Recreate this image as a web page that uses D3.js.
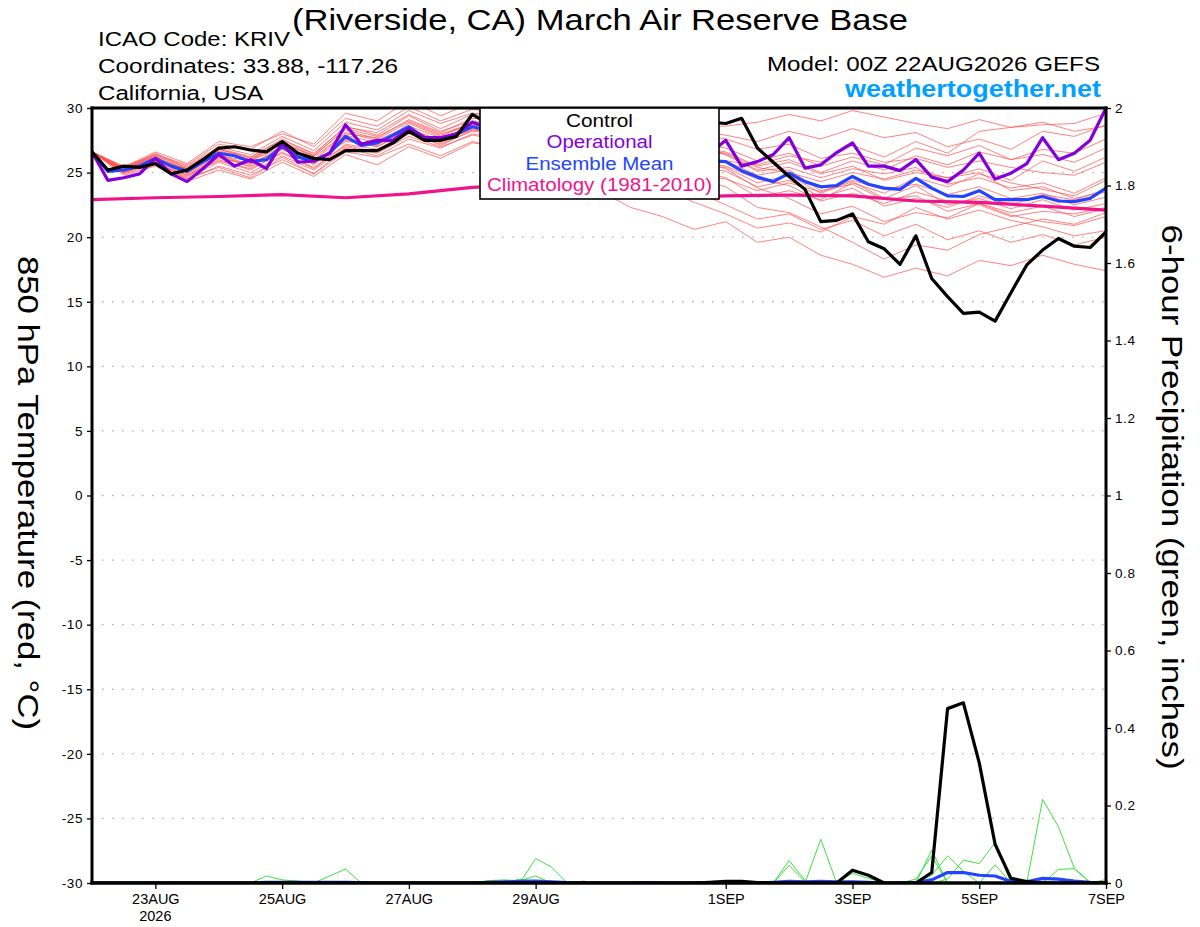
<!DOCTYPE html>
<html lang="en">
<head>
<meta charset="UTF-8" />
<title>KRIV - GEFS 850 hPa Temperature</title>
<style>
  body { margin: 0; background: #fff; }
  svg { display: block; font-family: "Liberation Sans", Arial, sans-serif; }
  .grid line { stroke: #b4b4b4; stroke-width: 1.4; stroke-dasharray: 1.6 8.4; }
  .member { fill: none; stroke: #ff5252; stroke-width: 0.9; stroke-opacity: 0.8; }
  .rain { fill: none; stroke: #3ee03e; stroke-width: 1; }
  .thick { fill: none; stroke-width: 3.2; stroke-linejoin: round; }
</style>
</head>
<body>
<svg id="chart" width="1200" height="927"></svg>
<script src="https://cdn.jsdelivr.net/npm/d3@7/dist/d3.min.js"></script>
<script>
// ---- data (00Z 22AUG2026 run) ----
const runStart = Date.UTC(2026, 7, 22, 0);
const runEnd = Date.UTC(2026, 8, 7, 0);
const stepHours = 6;        // control / operational / mean / precip
const memberStepHours = 12; // ensemble members
const climStepHours = 24;   // climatology

const tempTicks = [30, 25, 20, 15, 10, 5, 0, -5, -10, -15, -20, -25, -30];
const precipTicks = [0, 0.2, 0.4, 0.6, 0.8, 1, 1.2, 1.4, 1.6, 1.8, 2];
const dateTicks = ["2026-08-23", "2026-08-25", "2026-08-27", "2026-08-29",
                   "2026-09-01", "2026-09-03", "2026-09-05", "2026-09-07"];
const dateLabels = ["23AUG", "25AUG", "27AUG", "29AUG", "1SEP", "3SEP", "5SEP", "7SEP"];

const control = [
  26.6, 25.2, 25.5, 25.4, 25.7, 24.9, 25.2, 26.0,
  26.9, 27.0, 26.75, 26.6, 27.4, 26.5, 26.1, 26.0,
  26.7, 26.7, 26.7, 27.3, 28.2, 27.5, 27.5, 27.8,
  29.5, 28.8, 29.2, 28.9, 29.4, 29.0, 28.7, 29.1,
  28.8, 29.3, 28.9, 28.6, 29.0, 28.7, 29.1, 28.9,
  28.8, 29.2, 26.9, 25.8, 24.7, 23.7, 21.2, 21.3,
  21.8, 19.65, 19.1, 17.9, 20.1, 16.8, 15.4, 14.1,
  14.2, 13.5, 15.7, 17.85, 19.0, 19.9, 19.3, 19.2,
  20.4
];
const operational = [
  26.6, 24.4, 24.6, 24.9, 26.1, 24.9, 24.3, 25.3,
  26.4, 25.5, 26.0, 25.3, 27.3, 25.8, 25.9, 26.5,
  28.7, 27.2, 27.5, 27.5, 28.4, 27.7, 27.7, 28.0,
  28.9, 28.5, 28.9, 28.4, 28.8, 28.3, 28.6, 28.1,
  28.4, 27.9, 28.2, 27.6, 27.8, 27.1, 27.4, 26.5,
  27.5, 25.5, 25.85, 26.4, 27.7, 25.35, 25.6, 26.55,
  27.3, 25.5, 25.5, 25.15, 26.0, 24.65, 24.3, 25.2,
  26.5, 24.5, 24.95, 25.7, 27.7, 26.0, 26.5, 27.5,
  30.0
];
const ensMean = [
  26.6, 25.1, 25.2, 25.5, 26.1, 25.5, 25.1, 25.85,
  26.5, 26.3, 25.85, 26.0, 27.05, 26.2, 25.9, 26.5,
  27.8, 27.1, 27.3, 27.9, 28.55, 27.7, 27.6, 28.0,
  28.55, 28.3, 28.4, 28.1, 28.6, 28.2, 28.0, 27.6,
  27.9, 27.4, 27.2, 26.8, 26.9, 26.4, 26.3, 25.9,
  25.85, 25.15, 24.65, 24.3, 24.95, 24.3, 23.9, 24.0,
  24.7, 24.1, 23.8, 23.7, 24.55, 23.8, 23.2, 23.15,
  23.6, 22.9, 22.9, 22.9, 23.15, 22.8, 22.75, 23.0,
  23.8
];
const climatology = [22.9, 23.05, 23.15, 23.3, 23.05, 23.35, 23.85, 24.1, 23.5,
                     23.05, 23.2, 23.25, 23.2, 22.8, 22.7, 22.4, 22.1];

// ensemble members, 12-hourly
const members = [
  [26.6,25.5,26.4,25.6,27.2,26.8,28.2,27.0,29.2,28.6,30.1,29.0,29.9,29.6,30.2,29.5,29.8,29.0,28.7,28.5,28.6,28.9,29.5,29.0,29.8,29.3,28.8,28.4,29.1,28.5,28.7,28.8,29.6],
  [26.6,25.0,25.8,24.6,25.8,25.0,26.3,25.2,27.0,26.5,27.8,27.0,27.9,27.5,27.6,26.8,26.4,25.5,24.8,23.6,22.5,21.4,21.8,20.6,21.3,20.1,21.0,19.8,20.5,19.6,20.2,19.4,20.0],
  [26.6,25.3,26.3,25.4,26.9,26.2,27.6,26.4,28.6,27.9,29.4,28.2,29.0,28.8,29.1,28.7,28.4,27.8,27.5,27.0,26.6,25.5,26.0,25.0,25.9,25.2,26.3,25.6,26.6,26.0,26.4,25.8,26.9],
  [26.6,24.9,25.6,24.5,25.5,24.8,26.0,24.9,26.6,26.2,27.2,26.3,27.4,26.9,26.6,25.4,23.6,22.3,21.6,20.6,21.2,19.6,20.0,18.6,17.9,16.9,17.6,17.0,18.2,17.8,18.6,17.9,17.4],
  [26.6,25.4,26.0,25.2,26.4,25.6,27.0,25.7,27.5,27.0,28.4,27.4,28.6,28.9,29.4,28.9,28.8,28.1,27.6,27.0,26.4,25.1,25.4,24.6,25.3,24.9,25.4,24.1,24.6,23.8,24.2,23.4,24.6],
  [26.6,25.1,26.2,24.9,26.2,25.5,26.9,25.6,27.6,27.1,28.8,27.8,28.9,28.3,28.1,27.5,27.2,26.5,26.0,25.6,25.4,24.2,24.8,23.4,24.3,23.0,24.0,22.5,23.0,22.2,22.9,22.1,22.6],
  [26.6,25.2,25.9,25.3,26.7,26.0,27.4,26.3,28.3,27.6,28.9,27.9,28.7,28.5,28.9,28.4,28.2,27.6,27.3,26.9,26.5,25.4,25.0,24.3,25.0,24.5,25.2,24.6,25.0,23.6,23.9,23.0,23.5],
  [26.6,25.0,25.7,24.8,25.9,25.3,26.5,25.4,27.1,26.6,28.0,27.2,28.2,28.0,28.3,27.6,27.0,26.2,25.5,24.6,23.9,22.3,21.9,20.8,19.6,18.3,19.4,19.0,20.2,20.8,21.4,21.0,21.9],
  [26.6,25.3,26.5,25.3,26.8,26.1,27.3,26.2,28.0,27.7,29.1,28.1,29.2,29.1,29.6,29.2,29.3,28.9,28.4,28.0,27.6,26.8,27.2,26.1,26.5,25.8,26.1,25.4,25.9,25.4,25.0,24.8,25.8],
  [26.6,25.1,26.0,24.8,26.1,25.7,26.8,25.8,27.4,27.2,28.3,27.3,28.4,28.1,28.5,27.9,27.8,27.0,26.6,25.9,25.5,24.5,24.0,22.8,23.4,22.6,23.5,22.8,22.5,21.6,22.0,21.8,22.3],
  [26.6,25.2,26.2,25.0,26.3,25.9,27.2,26.0,28.1,27.5,28.6,27.7,28.5,28.4,28.7,28.0,27.6,26.9,26.4,25.3,24.6,23.1,23.6,22.9,24.2,23.4,24.6,23.9,24.9,24.2,23.7,23.2,24.4],
  [26.6,25.3,26.2,25.1,26.6,25.9,27.0,25.9,27.9,27.3,28.4,27.5,28.3,28.1,28.4,27.8,27.5,26.8,26.5,26.0,25.9,25.6,26.3,25.8,27.1,26.2,27.4,26.5,28.2,28.5,28.9,28.2,28.6],
  [26.6,25.0,26.0,25.0,26.4,25.4,26.8,25.7,27.6,27.0,28.2,27.1,28.3,28.2,28.6,28.2,28.1,27.3,26.7,26.2,25.9,24.8,25.2,23.6,24.1,22.9,23.2,22.0,22.6,21.7,21.2,20.9,21.6],
  [26.6,25.4,26.3,25.2,26.5,26.0,27.3,26.3,28.4,27.8,29.0,28.0,28.8,28.6,29.0,28.1,27.4,26.3,25.6,24.9,24.5,23.6,24.2,23.5,24.4,23.7,24.1,23.3,23.9,23.0,23.4,22.5,23.1],
  [26.6,25.1,25.8,24.5,25.4,24.6,26.2,24.9,26.9,26.3,27.6,26.9,28.0,27.6,27.8,27.3,27.2,26.6,26.2,25.6,25.1,23.9,24.4,23.1,23.8,22.4,23.0,22.3,23.2,22.5,23.3,22.9,23.7],
  [26.6,25.2,26.1,25.3,26.8,26.2,27.5,26.5,28.5,28.1,29.5,28.4,29.5,29.3,29.7,29.1,28.9,28.2,27.8,27.3,26.9,25.9,26.5,25.5,26.2,25.6,26.9,26.3,27.1,26.0,26.8,26.5,27.6],
  [26.6,25.0,25.9,24.7,26.0,25.2,26.6,25.3,27.2,26.8,28.1,27.4,28.7,28.5,28.9,28.3,28.0,27.2,26.8,26.1,25.3,23.8,23.0,21.8,22.4,21.2,21.9,21.5,22.6,21.9,22.4,21.6,22.2],
  [26.6,25.3,26.4,25.5,27.0,26.4,27.8,26.7,28.9,28.3,29.8,28.8,29.6,29.4,29.9,29.4,29.5,28.9,28.6,28.2,27.9,27.4,28.2,27.6,28.4,27.7,28.1,27.0,27.6,26.8,28.2,27.8,28.7],
  [26.6,25.4,26.6,25.7,27.4,27.0,28.0,27.2,29.6,29.0,30.6,29.4,30.4,30.0,30.5,30.2,29.6,28.4,27.9,27.1,26.4,25.2,25.8,24.9,25.5,24.4,25.0,24.6,25.3,24.4,25.9,25.1,26.2],
  [26.6,24.8,25.5,24.3,25.2,24.5,25.8,24.7,26.4,25.6,27.0,26.1,27.3,27.0,27.5,26.6,26.0,24.9,23.8,22.7,21.8,20.7,21.1,20.4,21.6,21.0,22.3,21.4,22.1,21.3,20.8,20.1,20.5]
];

// 6-hour precipitation (inches)
const precipControl = [
  0, 0, 0, 0, 0, 0, 0, 0,
  0, 0, 0, 0, 0, 0, 0, 0,
  0, 0, 0, 0, 0, 0, 0, 0,
  0, 0, 0, 0, 0, 0, 0, 0,
  0, 0, 0, 0, 0, 0, 0, 0.002,
  0.004, 0.004, 0.001, 0, 0, 0, 0, 0,
  0.033, 0.02, 0, 0, 0, 0.027, 0.45, 0.465,
  0.31, 0.10, 0.012, 0.004, 0, 0, 0, 0,
  0
];
const precipMean = [
  0, 0, 0, 0, 0, 0, 0, 0,
  0, 0, 0, 0.002, 0.002, 0.002, 0.002, 0.002,
  0.002, 0.001, 0, 0, 0, 0, 0, 0,
  0, 0.002, 0.003, 0.004, 0.005, 0.003, 0.001, 0,
  0, 0, 0, 0.001, 0, 0, 0, 0.001,
  0.002, 0.001, 0, 0.002, 0.004, 0.003, 0.004, 0.003,
  0.003, 0.002, 0, 0, 0.001, 0.008, 0.027, 0.027,
  0.02, 0.018, 0.004, 0.003, 0.012, 0.01, 0.005, 0.002,
  0.001
];
const precipMembers = [
  [0,0,0,0,0,0,0,0, 0,0,0,0.018,0.008,0.005,0,0, 0,0,0,0,0,0,0,0, 0,0.006,0.008,0.006,0.018,0,0,0,
   0,0,0,0,0,0,0,0, 0,0,0,0,0.058,0.007,0,0, 0,0,0,0,0,0.085,0,0, 0,0,0,0,0,0.035,0.037,0, 0.009],
  [0,0,0,0,0,0,0,0, 0,0,0,0,0,0,0,0.018, 0.036,0,0,0,0,0,0,0, 0,0,0,0,0.063,0.041,0,0.005,
   0,0,0,0,0,0,0,0, 0,0,0,0,0,0,0.113,0, 0,0,0,0,0,0.02,0.07,0.03, 0,0,0,0,0,0,0,0, 0],
  [0,0,0,0,0,0,0,0, 0,0,0,0,0,0,0,0, 0,0,0,0,0,0,0,0, 0,0,0,0,0,0,0,0,
   0,0,0,0.003,0,0,0.002,0, 0,0,0,0,0.045,0.004,0,0, 0.025,0.012,0,0,0,0,0.01,0.059, 0.05,0.104,0,0,0,0,0,0, 0],
  [0,0,0,0,0,0,0,0, 0,0,0,0,0,0,0,0, 0,0,0,0,0,0,0,0, 0,0,0,0,0,0,0,0,
   0,0,0,0,0,0,0,0, 0,0,0,0,0,0,0,0, 0,0,0,0,0,0,0,0, 0,0.047,0,0,0.216,0.145,0.038,0.002, 0],
  [0,0,0,0,0,0,0,0, 0,0,0,0,0,0,0,0, 0,0,0,0,0.003,0,0,0, 0,0,0,0.01,0.004,0,0,0,
   0,0,0,0,0,0,0,0, 0,0,0,0,0,0,0,0, 0,0,0,0,0.01,0.07,0,0, 0,0,0,0,0.005,0,0,0, 0]
];

// ---- layout ----
const W = 1200, H = 927;
const L = 92, R = 1106, T = 108, B = 883;

const svg = d3.select("#chart");

const x = d3.scaleUtc().domain([new Date(runStart), new Date(runEnd)]).range([L, R]);
const yT = d3.scaleLinear().domain([-30, 30]).range([B, T]);
const yP = d3.scaleLinear().domain([0, 2]).range([B, T]);

const timeOf = step => i => new Date(runStart + i * step * 3600e3);
const lineT = step => d3.line().x((d, i) => x(timeOf(step)(i))).y(d => yT(d));
const lineP = d3.line().x((d, i) => x(timeOf(stepHours)(i))).y(d => yP(d));

svg.append("defs").append("clipPath").attr("id", "plot")
  .append("rect").attr("x", L).attr("y", T).attr("width", R - L).attr("height", B - T);

// grid
svg.append("g").attr("class", "grid")
  .selectAll("line")
  .data(tempTicks.filter(v => v > -30 && v < 30))
  .join("line")
  .attr("x1", L).attr("x2", R)
  .attr("y1", d => yT(d)).attr("y2", d => yT(d));

const plot = svg.append("g").attr("clip-path", "url(#plot)");

plot.append("g").selectAll("path")
  .data(members).join("path")
  .attr("class", "member")
  .attr("d", lineT(memberStepHours));

plot.append("g").selectAll("path")
  .data(precipMembers).join("path")
  .attr("class", "rain")
  .attr("d", lineP);

plot.append("path").datum(climatology).attr("class", "thick")
  .attr("stroke", "#f0148a").attr("d", lineT(climStepHours));
plot.append("path").datum(ensMean).attr("class", "thick")
  .attr("stroke", "#2343ff").attr("d", lineT(stepHours));
plot.append("path").datum(operational).attr("class", "thick")
  .attr("stroke", "#8200dc").attr("d", lineT(stepHours));
plot.append("path").datum(control).attr("class", "thick")
  .attr("stroke", "#000").attr("d", lineT(stepHours));

plot.append("path").datum(precipMean).attr("class", "thick")
  .attr("stroke", "#2343ff").attr("d", lineP);
plot.append("path").datum(precipControl).attr("class", "thick")
  .attr("stroke", "#000").attr("d", lineP);

// axes
function styleAxis(g, size) {
  g.attr("font-family", '"Liberation Sans", Arial, sans-serif').attr("font-size", size);
  g.select(".domain").remove();
  g.selectAll(".tick line").attr("stroke", "#000").attr("stroke-width", 1.3);
  g.selectAll(".tick text").attr("fill", "#000").attr("letter-spacing", 0.6);
}

svg.append("g").attr("transform", `translate(${L},0)`)
  .call(d3.axisLeft(yT).tickValues(tempTicks).tickSize(5).tickPadding(4).tickFormat(d => String(d)))
  .call(g => styleAxis(g, 13.5));

svg.append("g").attr("transform", `translate(${R},0)`)
  .call(d3.axisRight(yP).tickValues(precipTicks).tickSize(5).tickPadding(4).tickFormat(d => String(+d.toFixed(1))))
  .call(g => styleAxis(g, 13.5));

const tickDates = dateTicks.map(s => new Date(s + "T00:00:00Z"));
svg.append("g").attr("transform", `translate(0,${B})`)
  .call(d3.axisBottom(x).tickValues(tickDates).tickSize(6).tickPadding(5)
    .tickFormat((d, i) => dateLabels[i]))
  .call(g => styleAxis(g, 14.5))
  .call(g => g.selectAll(".tick text").attr("letter-spacing", 0));

svg.append("text").attr("x", x(tickDates[0])).attr("y", 921)
  .attr("text-anchor", "middle").attr("font-size", 14.5)
  .text("2026");

// frame
const frame = svg.append("g").attr("stroke", "#000").attr("stroke-linecap", "square");
frame.append("line").attr("x1", L).attr("x2", R).attr("y1", T).attr("y2", T).attr("stroke-width", 3);
frame.append("line").attr("x1", L).attr("x2", R).attr("y1", B).attr("y2", B).attr("stroke-width", 3.5);
frame.append("line").attr("x1", L).attr("x2", L).attr("y1", T).attr("y2", B).attr("stroke-width", 3);
frame.append("line").attr("x1", R).attr("x2", R).attr("y1", T).attr("y2", B).attr("stroke-width", 3);

// legend
const legendItems = ["Control", "Operational", "Ensemble Mean", "Climatology (1981-2010)"];
const legendColors = ["#000", "#8200dc", "#2343ff", "#f0148a"];
const legendWidths = [67, 106, 148, 225];
const leg = svg.append("g");
leg.append("rect").attr("x", 480).attr("y", T).attr("width", 239).attr("height", 91)
  .attr("fill", "#fff").attr("stroke", "#000").attr("stroke-width", 1.6);
leg.selectAll("text").data(legendItems).join("text")
  .attr("x", 599.5).attr("y", (d, i) => 127 + i * 21.3)
  .attr("text-anchor", "middle").attr("font-size", 17.5)
  .attr("textLength", (d, i) => legendWidths[i]).attr("lengthAdjust", "spacingAndGlyphs")
  .attr("fill", (d, i) => legendColors[i])
  .text(d => d);

// titles
function label(txt, xx, yy, size, len, anchor) {
  return svg.append("text").attr("x", xx).attr("y", yy).attr("font-size", size)
    .attr("text-anchor", anchor || "start")
    .attr("textLength", len).attr("lengthAdjust", "spacingAndGlyphs").text(txt);
}
label("(Riverside, CA) March Air Reserve Base", 600, 29.5, 30, 616, "middle");
label("ICAO Code: KRIV", 98, 45.5, 20.5, 192);
label("Coordinates: 33.88, -117.26", 98, 72.5, 20.5, 300);
label("California, USA", 98, 99.5, 20.5, 165);
label("Model: 00Z 22AUG2026 GEFS", 1100, 71, 20.5, 333, "end");
label("weathertogether.net", 1101, 96.5, 23, 256, "end")
  .attr("font-weight", "bold").attr("fill", "#00a0ff");

svg.append("text")
  .attr("transform", "translate(18,493) rotate(90)")
  .attr("text-anchor", "middle").attr("font-size", 29.5)
  .attr("textLength", 474).attr("lengthAdjust", "spacingAndGlyphs")
  .text("850 hPa Temperature (red, °C)");

svg.append("text")
  .attr("transform", "translate(1162,497) rotate(90)")
  .attr("text-anchor", "middle").attr("font-size", 29.5)
  .attr("textLength", 545).attr("lengthAdjust", "spacingAndGlyphs")
  .text("6-hour Precipitation (green, inches)");
</script>
</body>
</html>
